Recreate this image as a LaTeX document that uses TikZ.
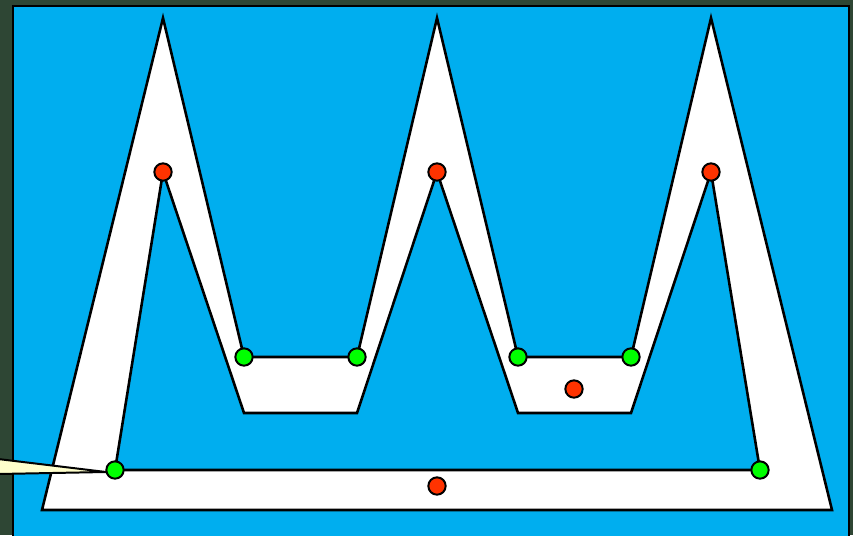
\documentclass[tikz,border=0pt]{standalone}
\usetikzlibrary{shapes.geometric}
\definecolor{bgdark}{HTML}{2E4634}
\definecolor{skyb}{HTML}{00AEEF}
\definecolor{dotred}{HTML}{FF3300}
\definecolor{dotgreen}{HTML}{00FF00}
\definecolor{wedgey}{HTML}{FFFFCC}
\tikzset{
  reddot/.style={circle,draw=black,line width=1.7pt,fill=dotred,minimum size=0.52cm,inner sep=0pt},
  greendot/.style={circle,draw=black,line width=1.7pt,fill=dotgreen,minimum size=0.52cm,inner sep=0pt},
  outline/.style={draw=black,line width=2.2pt,line join=miter}
}
\begin{document}
\begin{tikzpicture}[x=0.03cm,y=-0.03cm]
\useasboundingbox (0,0) rectangle (853,535);
\fill[bgdark] (0,0) rectangle (853,535);
\draw[fill=skyb,draw=black,line width=2.2pt] (13,6) rectangle (849,545);
% white band
\path[fill=white,even odd rule]
  (42,510) -- (163,18) -- (244,357) -- (357,357) -- (437,18) -- (518,357) -- (631,357) -- (711,18) -- (832,510) -- cycle
  (115,470) -- (163,172) -- (244,413) -- (357,413) -- (437,172) -- (518,413) -- (631,413) -- (711,172) -- (760,470) -- cycle;
\draw[outline] (42,510) -- (163,18) -- (244,357) -- (357,357) -- (437,18) -- (518,357) -- (631,357) -- (711,18) -- (832,510) -- cycle;
\draw[outline] (115,470) -- (163,172) -- (244,413) -- (357,413) -- (437,172) -- (518,413) -- (631,413) -- (711,172) -- (760,470) -- cycle;
% wedge
\draw[fill=wedgey,draw=black,line width=1.7pt] (-2,459) -- (106,472) -- (-2,474) -- cycle;
% dots
\node[reddot] (r1) at (163,172) {};
\node[reddot] (r2) at (437,172) {};
\node[reddot] (r3) at (711,172) {};
\node[reddot] (r4) at (574,389) {};
\node[reddot] (r5) at (437,486) {};
\node[greendot] (g1) at (115,470) {};
\node[greendot] (g2) at (244,357) {};
\node[greendot] (g3) at (357,357) {};
\node[greendot] (g4) at (518,357) {};
\node[greendot] (g5) at (631,357) {};
\node[greendot] (g6) at (760,470) {};
\end{tikzpicture}
\end{document}
